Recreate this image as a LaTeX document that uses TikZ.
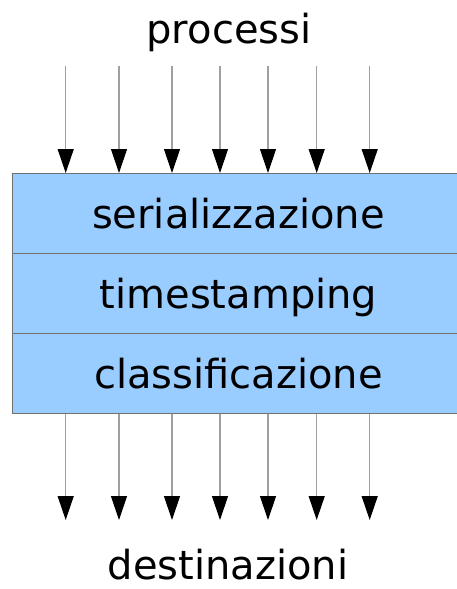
\documentclass[tikz,border=0pt]{standalone}
\usepackage{fontspec}
\setmainfont{DejaVu Sans}
\usetikzlibrary{arrows.meta}
\definecolor{rowblue}{HTML}{99CCFF}
\definecolor{rowline}{HTML}{707070}
\definecolor{arrline}{HTML}{A0A0A0}
\begin{document}
\begin{tikzpicture}[x=1pt,y=1pt,
  rowbox/.style={draw=rowline,fill=rowblue,line width=1pt,minimum width=449pt,minimum height=80pt,inner sep=0pt,anchor=north west},
  rowtext/.style={font=\fontsize{40}{40}\selectfont,anchor=base,inner sep=0pt},
  flow/.style={draw=arrline,line width=1.2pt,-{Triangle[length=24pt,width=16pt,color=black,fill=black]}}]
\useasboundingbox (0,0) rectangle (457,-589);
\node[rowbox] (r1) at (12,-173) {};
\node[rowbox] (r2) at (12,-253) {};
\node[rowbox] (r3) at (12,-333) {};
\node[rowtext] (l1) at (238.5,-228) {serializzazione};
\node[rowtext] (l2) at (238.5,-308) {timestamping};
\node[rowtext] (l3) at (238.5,-388) {classificazione};
\node[rowtext] (top) at (229,-43) {processi};
\node[rowtext] (bot) at (228,-579) {destinazioni};
\foreach \i/\x in {1/65.7,2/119,3/172,4/220,5/268,6/316.7,7/369.7}{
  \coordinate (t\i) at (\x,-66);
  \coordinate (b\i) at (\x,-520);
  \draw[flow] (t\i) -- (t\i |- r1.north);
  \draw[flow] (b\i |- r3.south) -- (b\i);
}
\end{tikzpicture}
\end{document}
